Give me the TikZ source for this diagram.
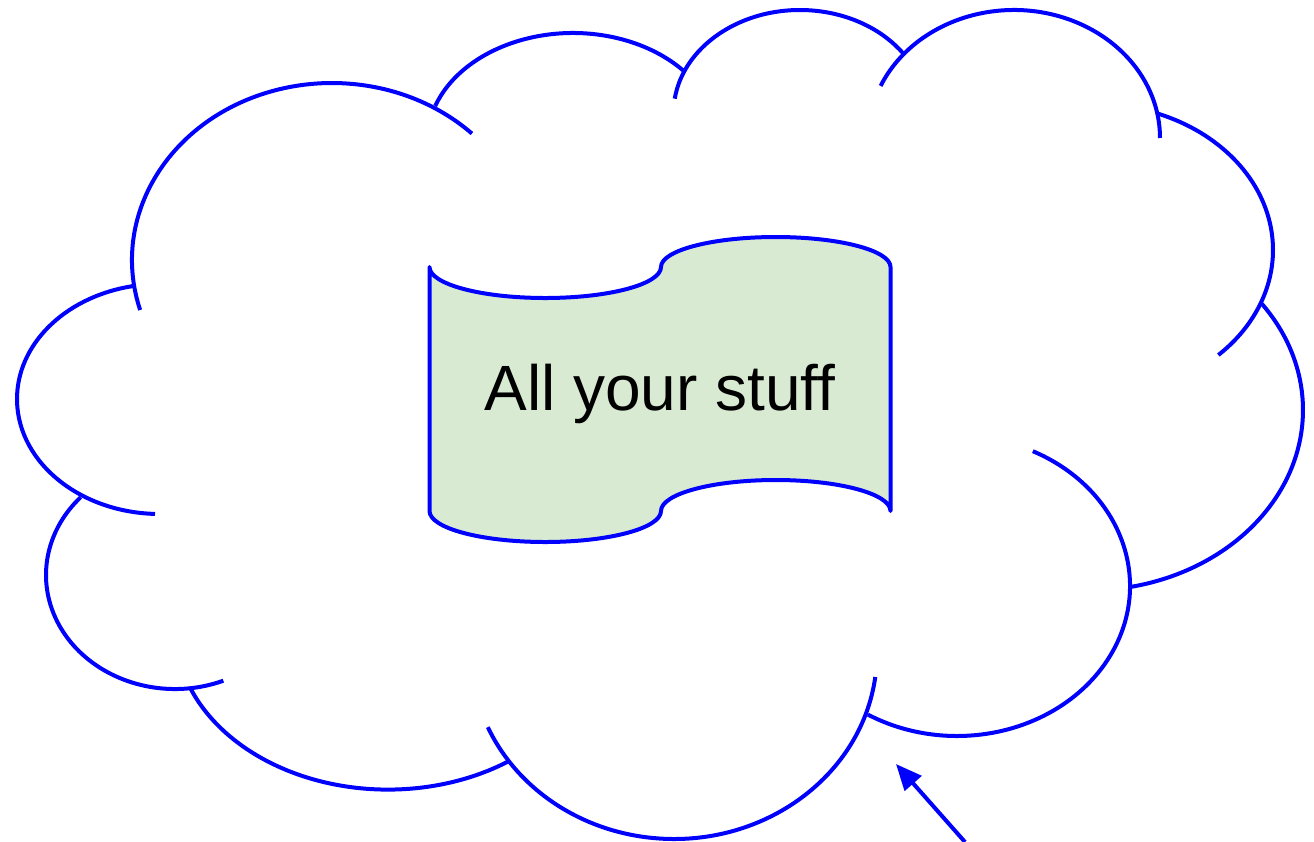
\documentclass[tikz,border=0pt]{standalone}
\usepackage{fontspec}
\setmainfont[Ligatures=CommonOff]{Liberation Sans}
\usetikzlibrary{arrows.meta}
\definecolor{cloudblue}{HTML}{0000FF}
\definecolor{bannergreen}{HTML}{D9EAD3}
\tikzset{
  px/.style={x=0.5pt,y=-0.5pt},
  outline/.style={draw=cloudblue,line width=2pt,line join=round},
  bannerline/.style={outline,line cap=round,fill=bannergreen},
  bannerlabel/.style={font=\fontsize{32}{38}\selectfont,text=black,inner sep=0pt},
  pointer/.style={draw=cloudblue,line width=2pt,-{Triangle[length=13pt,width=11pt,fill=cloudblue]}}
}
% centre x, centre y (pixels, y down), x radius, y radius, start, end (angles counted as on screen)
\newcommand{\lobe}[6]{%
  \draw[outline] ({#1+#3*cos(#5)},{#2-#4*sin(#5)}) arc[start angle=#5,end angle=#6,x radius=#3,y radius=-#4];}
\begin{document}
\begin{tikzpicture}[px]
\useasboundingbox (0,0) rectangle (1314,842);
\fill[white] (0,0) rectangle (1314,842);
\clip (0,0) rectangle (1314,842);
\lobe{332}{260}{200}{177}{196.4}{45.6}
\lobe{573}{142}{146}{109}{160.7}{40}
\lobe{800}{113}{126.5}{103}{172}{35}
\lobe{1014}{138}{146}{128}{156}{0}
\lobe{1094}{250}{179}{146}{69}{-46}
\lobe{1088}{410}{215}{180.5}{36}{-78.8}
\lobe{957}{586}{173}{150}{64}{-121}
\lobe{674}{653}{203}{186}{-7.4}{-156.5}
\lobe{388}{629}{212.6}{160.6}{-55.7}{-158.5}
\lobe{175}{575}{129}{114}{-68}{-223}
\lobe{160}{399}{143}{115}{-92}{-260}
\path[bannerline]
  (429.5,267) arc[start angle=180,end angle=360,x radius=115.75,y radius=-31]
  arc[start angle=180,end angle=0,x radius=114.75,y radius=-30]
  -- (890.5,511)
  arc[start angle=0,end angle=180,x radius=114.75,y radius=-31]
  arc[start angle=0,end angle=-180,x radius=115.75,y radius=-31]
  -- cycle;
\node[bannerlabel] (label) at (660,394) {All your stuff};
\coordinate (tail) at (965,842);
\coordinate (head) at (896,764);
\draw[pointer] (tail) -- (head);
\end{tikzpicture}
\end{document}
